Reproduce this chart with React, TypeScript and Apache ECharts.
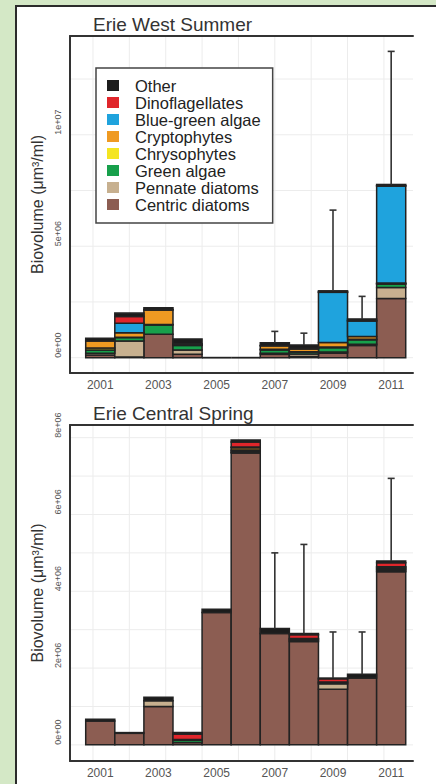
import React, { useEffect, useRef } from "react";
import * as echarts from "echarts";

// ---------- data (biovolume in millions of µm³/ml) ----------
const years = [2001, 2002, 2003, 2004, 2005, 2006, 2007, 2008, 2009, 2010, 2011];
const labelYears = [2001, 2003, 2005, 2007, 2009, 2011];

// legend order (top to bottom); stacking order is the reverse
const taxa = [
  "Other",
  "Dinoflagellates",
  "Blue-green algae",
  "Cryptophytes",
  "Chrysophytes",
  "Green algae",
  "Pennate diatoms",
  "Centric diatoms",
];
const taxaColors = ["#1c1c1c", "#e0262b", "#1fa3dd", "#ef9a22", "#f4e521", "#17a04b", "#c7b08f", "#8c5d52"];

// Erie West Summer
const westOther = [0.12, 0.15, 0.08, 0.22, 0, 0, 0.12, 0.15, 0.05, 0.07, 0.05];
const westDino = [0, 0.3, 0, 0, 0, 0, 0, 0, 0.02, 0.02, 0.02];
const westBlue = [0, 0.43, 0.02, 0.03, 0, 0, 0.02, 0.03, 2.25, 0.7, 4.35];
const westCrypto = [0.32, 0.2, 0.65, 0.02, 0, 0, 0.15, 0.12, 0.2, 0.12, 0.03];
const westChryso = [0.08, 0.02, 0.02, 0.02, 0, 0, 0.03, 0.02, 0.03, 0.03, 0.02];
const westGreen = [0.15, 0.15, 0.42, 0.2, 0, 0, 0.15, 0.08, 0.2, 0.2, 0.15];
const westPennate = [0.08, 0.72, 0, 0.2, 0, 0, 0.05, 0.12, 0.05, 0.05, 0.5];
const westCentric = [0.12, 0.03, 1.05, 0.15, 0, 0, 0.15, 0.05, 0.2, 0.55, 2.65];
const westErrTop = [null, null, null, null, null, null, 1.18, 1.1, 6.62, 2.75, 13.74];

// Erie Central Spring
const centralOther = [0.05, 0.02, 0.09, 0.04, 0.08, 0.05, 0.13, 0.03, 0.02, 0.1, 0.05];
const centralDino = [0, 0, 0, 0.14, 0, 0.13, 0, 0.1, 0.08, 0, 0.1];
const centralBlue = [0, 0, 0, 0, 0, 0.02, 0, 0, 0, 0, 0.02];
const centralCrypto = [0, 0, 0, 0.02, 0, 0.06, 0, 0.02, 0.02, 0, 0.03];
const centralChryso = [0, 0, 0, 0, 0, 0.03, 0, 0, 0, 0, 0.02];
const centralGreen = [0, 0, 0, 0.06, 0, 0.03, 0, 0.03, 0.03, 0, 0.03];
const centralPennate = [0, 0, 0.15, 0, 0, 0.02, 0, 0.03, 0.14, 0, 0.03];
const centralCentric = [0.62, 0.3, 1.0, 0.06, 3.45, 7.6, 2.9, 2.69, 1.45, 1.74, 4.51];
const centralErrTop = [null, null, null, null, null, null, 5.0, 5.22, 2.94, 2.94, 6.94];

// axis tick values
const westYTicks = [0, 5, 10];
const centralYTicks = [0, 2, 4, 6, 8];
const westYGrid = [0, 2.5, 5, 7.5, 10, 12.5];
const centralYGrid = [0, 1, 2, 3, 4, 5, 6, 7, 8];
const xGrid = [2000.75, 2002, 2003.25, 2004.5, 2005.75, 2007, 2008.25, 2009.5, 2010.75];

const FONT = "Liberation Sans, Arial, Helvetica, sans-serif";

const sci = (v: number) => {
  const x = Math.round(v * 1e6);
  if (x === 0) return "0e+00";
  const e = Math.floor(Math.log10(x));
  const m = Math.round(x / Math.pow(10, e));
  return `${m}e+${String(e).padStart(2, "0")}`;
};

export default function App() {
  const ref = useRef<HTMLDivElement>(null);

  useEffect(() => {
    if (!ref.current) return;
    const chart = echarts.init(ref.current, undefined, { renderer: "svg" });

    const panels = [
      {
        layers: [westOther, westDino, westBlue, westCrypto, westChryso, westGreen, westPennate, westCentric],
        err: westErrTop,
        yMin: -0.687,
        yMax: 14.43,
        yTicks: westYTicks,
        yGrid: westYGrid,
      },
      {
        layers: [centralOther, centralDino, centralBlue, centralCrypto, centralChryso, centralGreen, centralPennate, centralCentric],
        err: centralErrTop,
        yMin: -0.42,
        yMax: 8.33,
        yTicks: centralYTicks,
        yGrid: centralYGrid,
      },
    ];

    const axisLineStyle = { color: "#333", width: 2 };
    const xAxes: any[] = [];
    const yAxes: any[] = [];
    const series: any[] = [];

    panels.forEach((p, pi) => {
      xAxes.push({
        type: "value",
        gridIndex: pi,
        min: 1999.96,
        max: 2011.75,
        position: "bottom",
        axisLine: { show: true, onZero: false, lineStyle: axisLineStyle },
        axisTick: { show: false },
        splitLine: { show: false },
        axisLabel: {
          customValues: labelYears,
          formatter: (v: number) => String(v),
          color: "#555",
          fontSize: 12,
          margin: 6,
          fontFamily: FONT,
        },
      });
      xAxes.push({
        type: "value",
        gridIndex: pi,
        min: 1999.96,
        max: 2011.75,
        position: "top",
        axisLine: { show: true, onZero: false, lineStyle: axisLineStyle },
        axisTick: { show: false },
        splitLine: { show: false },
        axisLabel: { show: false },
      });
      yAxes.push({
        type: "value",
        gridIndex: pi,
        min: p.yMin,
        max: p.yMax,
        axisLine: { show: true, onZero: false, lineStyle: axisLineStyle },
        axisTick: { show: false },
        splitLine: { show: false },
        axisLabel: {
          customValues: p.yTicks,
          formatter: sci,
          rotate: 90,
          align: "left",
          verticalAlign: "bottom",
          margin: 8,
          fontSize: 9,
          color: "#555",
          fontFamily: FONT,
        },
        name: "Biovolume (μm³/ml)",
        nameLocation: "middle",
        nameRotate: 90,
        nameGap: 21,
        nameTextStyle: { fontSize: 16, color: "#333", fontFamily: FONT },
      });

      // grid lines
      const gridData: number[][] = [];
      xGrid.forEach((gx) => gridData.push([gx, 0, 0]));
      p.yGrid.forEach((gy) => gridData.push([2005, gy, 1]));
      series.push({
        type: "custom",
        name: "grid" + pi,
        xAxisIndex: pi * 2,
        yAxisIndex: pi,
        silent: true,
        z: 0,
        encode: { x: 0, y: 1 },
        data: gridData,
        renderItem: (params: any, api: any) => {
          const cs = params.coordSys;
          const pt = api.coord([api.value(0), api.value(1)]);
          const kind = api.value(2);
          if (kind === 0) {
            return {
              type: "line",
              shape: { x1: pt[0], y1: cs.y, x2: pt[0], y2: cs.y + cs.height },
              style: { stroke: "#ececec", lineWidth: 1 },
            };
          }
          return {
            type: "line",
            shape: { x1: cs.x, y1: pt[1], x2: cs.x + cs.width, y2: pt[1] },
            style: { stroke: "#ececec", lineWidth: 1 },
          };
        },
      });

      // stacked layers, bottom (Centric) first
      const base = years.map(() => 0);
      const totals: number[] = years.map(() => 0);
      for (let k = taxa.length - 1; k >= 0; k--) {
        const vals = p.layers[k];
        const data = years.map((yr, i) => {
          const b = base[i];
          const t = b + vals[i];
          base[i] = t;
          totals[i] = t;
          return [yr, b, t];
        });
        const isBottom = k === taxa.length - 1;
        const color = taxaColors[k];
        series.push({
          type: "custom",
          name: taxa[k],
          xAxisIndex: pi * 2,
          yAxisIndex: pi,
          z: 2,
          encode: { x: 0, y: [1, 2] },
          itemStyle: { color },
          data,
          renderItem: (params: any, api: any) => {
            const x = api.value(0);
            const b = api.value(1);
            const t = api.value(2);
            const p0 = api.coord([x - 0.5, t]);
            const p1 = api.coord([x + 0.5, b]);
            const h = p1[1] - p0[1];
            if (h <= 0.01) {
              if (isBottom) {
                return {
                  type: "line",
                  shape: { x1: p0[0], y1: p1[1], x2: p1[0], y2: p1[1] },
                  style: { stroke: "#222", lineWidth: 1.8 },
                };
              }
              return null;
            }
            return {
              type: "rect",
              shape: { x: p0[0], y: p0[1], width: p1[0] - p0[0], height: h },
              style: { fill: color, stroke: "#222", lineWidth: 1.5 },
            };
          },
        });
      }

      // error bars
      const errData: number[][] = [];
      years.forEach((yr, i) => {
        const e = p.err[i];
        if (e !== null && e !== undefined) errData.push([yr, totals[i], e as number]);
      });
      series.push({
        type: "custom",
        name: "err" + pi,
        xAxisIndex: pi * 2,
        yAxisIndex: pi,
        z: 3,
        silent: true,
        encode: { x: 0, y: [1, 2] },
        data: errData,
        renderItem: (params: any, api: any) => {
          const x = api.value(0);
          const a = api.coord([x, api.value(1)]);
          const b = api.coord([x, api.value(2)]);
          const st = { stroke: "#333", lineWidth: 1.6 };
          return {
            type: "group",
            children: [
              { type: "line", shape: { x1: a[0], y1: a[1], x2: b[0], y2: b[1] }, style: st },
              { type: "line", shape: { x1: b[0] - 3.5, y1: b[1], x2: b[0] + 3.5, y2: b[1] }, style: st },
            ],
          };
        },
      });
    });

    chart.setOption({
      animation: false,
      title: [
        {
          text: "Erie West Summer",
          left: 93,
          top: 15,
          padding: 0,
          textStyle: { fontSize: 19, fontWeight: "normal", color: "#333", fontFamily: FONT },
        },
        {
          text: "Erie Central Spring",
          left: 93,
          top: 404,
          padding: 0,
          textStyle: { fontSize: 19, fontWeight: "normal", color: "#333", fontFamily: FONT },
        },
      ],
      legend: {
        show: true,
        orient: "vertical",
        left: 96,
        top: 68,
        data: taxa.map((name) => ({ name, icon: "rect" })),
        itemWidth: 12,
        itemHeight: 11,
        itemGap: 0,
        padding: [9, 12, 10, 11],
        borderColor: "#444",
        borderWidth: 1.5,
        backgroundColor: "#fff",
        selectedMode: false,
        textStyle: { fontSize: 16.5, lineHeight: 16, color: "#222", fontFamily: FONT, padding: [0, 0, 0, 11] },
      },
      grid: [
        { left: 70, top: 36, width: 343, height: 337 },
        { left: 70, top: 425, width: 343, height: 336 },
      ],
      xAxis: xAxes,
      yAxis: yAxes,
      series,
    });

    return () => chart.dispose();
  }, []);

  return (
    <div style={{ position: "fixed", left: 0, top: 0, width: 436, height: 784, background: "#d4e8c6", overflow: "hidden" }}>
      <div
        style={{
          position: "absolute",
          left: 15,
          top: 5,
          right: 0,
          bottom: 0,
          background: "#fff",
          borderLeft: "2px solid #2b2b2b",
          borderTop: "2px solid #2b2b2b",
        }}
      />
      <div ref={ref} style={{ position: "absolute", left: 0, top: 0, width: 436, height: 784 }} />
    </div>
  );
}
